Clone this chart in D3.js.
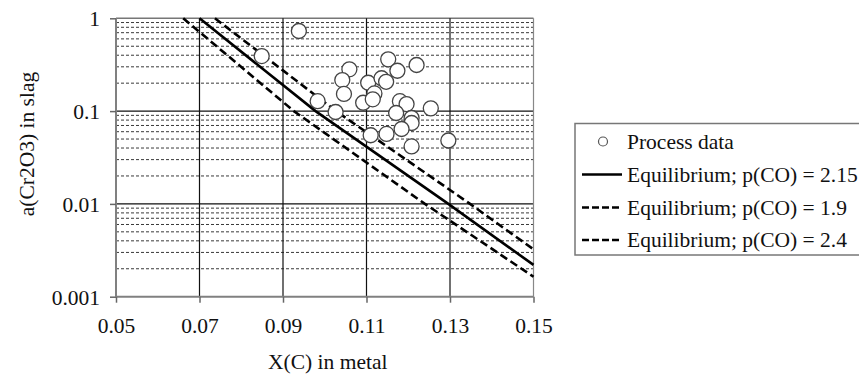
<!DOCTYPE html>
<html>
<head>
<meta charset="utf-8">
<script src="https://cdn.jsdelivr.net/npm/d3@7"></script>
<style>
  html, body { margin: 0; padding: 0; background: #fff; }
  svg { display: block; }
  svg text { font-family: "Liberation Serif", "Times New Roman", serif !important; fill: #111; }
</style>
</head>
<body>
<svg id="chart" width="859" height="374"></svg>
<script>
// Process data: carbon mole fraction in metal vs. Cr2O3 activity in slag
const processX = [0.0938, 0.0849, 0.0983, 0.1026, 0.1059, 0.1042, 0.1046, 0.1092, 0.1104,
                  0.1119, 0.1115, 0.1152, 0.1136, 0.1147, 0.1174, 0.1220, 0.1180, 0.1196,
                  0.1171, 0.1254, 0.1208, 0.1208, 0.1184, 0.1148, 0.1110, 0.1208, 0.1296];
const processA = [0.730, 0.392, 0.128, 0.0978, 0.282, 0.216, 0.153, 0.123, 0.202,
                  0.155, 0.134, 0.361, 0.226, 0.207, 0.272, 0.314, 0.128, 0.119,
                  0.0954, 0.107, 0.0843, 0.0744, 0.0641, 0.0567, 0.0549, 0.0416, 0.0482];

// Equilibrium curves for three CO partial pressures
const eqX215 = [0.0700, 0.0978, 0.1296, 0.1500];
const eqA215 = [1, 0.1, 0.01, 0.0022];
const eqX19  = [0.0661, 0.0926, 0.1240, 0.1500];
const eqA19  = [1, 0.1, 0.01, 0.00164];
const eqX24  = [0.0737, 0.1027, 0.1348, 0.1500];
const eqA24  = [1, 0.1, 0.01, 0.00324];

// Axis ticks
const xTicks = [0.05, 0.07, 0.09, 0.11, 0.13, 0.15];
const xTickLabels = ["0.05", "0.07", "0.09", "0.11", "0.13", "0.15"];
const yTicks = [1, 0.1, 0.01, 0.001];
const yTickLabels = ["1", "0.1", "0.01", "0.001"];

const legendLabels = ["Process data", "Equilibrium; p(CO) = 2.15",
                      "Equilibrium; p(CO) = 1.9", "Equilibrium; p(CO) = 2.4"];

const svg = d3.select("#chart");
const pLeft = 116, pRight = 533.5, pTop = 18.3, pBottom = 296.7;
const fontSize = 21.5;
const serif = '"Liberation Serif", "Times New Roman", serif';

const x = d3.scaleLinear().domain([0.05, 0.15]).range([pLeft, pRight]);
const y = d3.scaleLog().domain([0.001, 1]).range([pBottom, pTop]);

// Minor horizontal gridlines (2..9 within each decade)
const minor = [];
[0.001, 0.01, 0.1].forEach(d => { for (let k = 2; k <= 9; k++) minor.push(d * k); });
svg.append("g").selectAll("line").data(minor).join("line")
  .attr("x1", pLeft).attr("x2", pRight)
  .attr("y1", d => y(d)).attr("y2", d => y(d))
  .attr("stroke", "#3a3a3a").attr("stroke-width", 1).attr("stroke-dasharray", "3,2");

// Major horizontal gridlines
svg.append("g").selectAll("line").data([0.1, 0.01]).join("line")
  .attr("x1", pLeft).attr("x2", pRight)
  .attr("y1", d => y(d)).attr("y2", d => y(d))
  .attr("stroke", "#111").attr("stroke-width", 1.2);
svg.append("line").attr("x1", pLeft).attr("x2", pRight)
  .attr("y1", y(1)).attr("y2", y(1))
  .attr("stroke", "#777").attr("stroke-width", 1.5);

// Vertical gridlines
svg.append("g").selectAll("line").data(xTicks.slice(1)).join("line")
  .attr("x1", d => x(d)).attr("x2", d => x(d))
  .attr("y1", pTop).attr("y2", pBottom)
  .attr("stroke", (d, i) => i === xTicks.length - 2 ? "#888" : "#111").attr("stroke-width", 1.2);

// Axes built with d3 axis generators
const xAxis = svg.append("g").attr("transform", `translate(0,${pBottom})`)
  .call(d3.axisBottom(x).tickValues(xTicks).tickSize(6).tickFormat((d, i) => xTickLabels[i]));
const yAxis = svg.append("g").attr("transform", `translate(${pLeft},0)`)
  .call(d3.axisLeft(y).tickValues(yTicks).tickSize(6).tickFormat((d, i) => yTickLabels[i]));

[xAxis, yAxis].forEach(g => {
  g.attr("font-family", null).attr("font-size", null);
  g.select(".domain").attr("stroke", "#808080").attr("stroke-width", 2);
  g.selectAll(".tick line").attr("stroke", "#666").attr("stroke-width", 1.5);
  g.selectAll(".tick text").style("font-family", serif)
    .attr("font-size", fontSize).attr("fill", "#111");
});
xAxis.select(".domain").attr("d", `M${pLeft},0H${pRight}`);
yAxis.select(".domain").attr("d", `M0,${pBottom}V${pTop}`);
xAxis.selectAll(".tick text").attr("dy", null).attr("y", 36);
yAxis.selectAll(".tick text").attr("x", -16).attr("dy", "0.34em");

// Equilibrium curves
const line = d3.line().x(d => x(d[0])).y(d => y(d[1]));
const plot = svg.append("g");
const curves = [
  { xs: eqX19, as: eqA19, dash: "8,4" },
  { xs: eqX24, as: eqA24, dash: "8,4" },
  { xs: eqX215, as: eqA215, dash: null }
];
curves.forEach(c => {
  plot.append("path")
    .datum(c.xs.map((v, i) => [v, c.as[i]]))
    .attr("d", line)
    .attr("fill", "none").attr("stroke", "#000").attr("stroke-width", 2.6)
    .attr("stroke-dasharray", c.dash);
});

// Process data markers
plot.append("g").selectAll("circle")
  .data(processX.map((v, i) => [v, processA[i]]))
  .join("circle")
  .attr("cx", d => x(d[0])).attr("cy", d => y(d[1])).attr("r", 7.5)
  .attr("fill", "#fff").attr("stroke", "#444").attr("stroke-width", 1.3);

// Axis titles
svg.append("text").attr("x", (pLeft + pRight) / 2 + 3).attr("y", 369)
  .style("font-family", serif)
  .attr("text-anchor", "middle").attr("font-size", fontSize).text("X(C) in metal");
svg.append("text").attr("transform", `translate(34,144) rotate(-90)`)
  .style("font-family", serif)
  .attr("text-anchor", "middle").attr("font-size", fontSize).text("a(Cr2O3) in slag");

// Legend
const lg = svg.append("g");
lg.append("rect").attr("x", 575).attr("y", 123.5).attr("width", 300).attr("height", 131.5)
  .attr("fill", "#fff").attr("stroke", "#777").attr("stroke-width", 1.5);
const rowY = [141.5, 174.5, 207.5, 240];
lg.append("circle").attr("cx", 603).attr("cy", rowY[0]).attr("r", 4.5)
  .attr("fill", "#fff").attr("stroke", "#555").attr("stroke-width", 1.2);
[null, "7,3", "7,3"].forEach((dash, i) => {
  lg.append("line").attr("x1", 582).attr("x2", 622)
    .attr("y1", rowY[i + 1]).attr("y2", rowY[i + 1])
    .attr("stroke", "#000").attr("stroke-width", 2.6).attr("stroke-dasharray", dash);
});
lg.selectAll("text").data(legendLabels).join("text")
  .attr("x", 627).attr("y", (d, i) => rowY[i]).attr("dy", "0.34em")
  .style("font-family", serif)
  .attr("font-size", fontSize).text(d => d);
</script>
</body>
</html>
